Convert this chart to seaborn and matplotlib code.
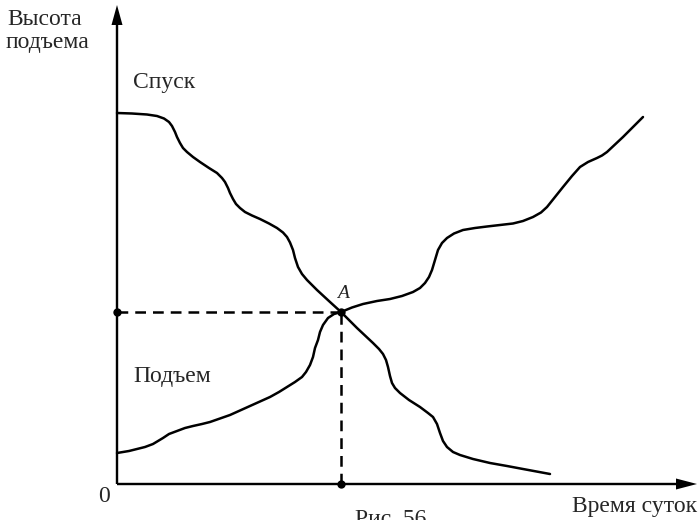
import numpy as np
import pandas as pd
import matplotlib
matplotlib.use("Agg")
import matplotlib.pyplot as plt
import seaborn as sns

# Descent curve ("Спуск"): time of day vs. height
descent_time = [0, 15, 30, 40, 47, 52, 55, 58, 60, 63, 66, 70, 76, 83, 92, 100,
                105, 108, 111, 113, 116, 119, 123, 128, 135, 143, 152, 160, 166,
                170, 173, 176, 178, 181, 185, 190, 200, 213, 224, 240, 256, 262,
                266, 269, 271, 273, 275, 278, 283, 292, 303, 311, 316, 320, 323,
                326, 330, 336, 343, 356, 373, 390, 406, 433]
descent_height = [371, 370.5, 369.5, 368, 365.5, 362, 358, 352, 347, 341, 336,
                  332, 327, 322, 316, 311, 306, 302, 296, 291, 285, 280, 276,
                  272, 268.5, 265, 260.5, 256, 251.5, 247, 241.5, 234, 226, 217,
                  210, 204, 194, 182, 172, 156, 141, 135, 130, 124, 117, 108,
                  101, 96, 91, 84, 77, 71, 67, 60, 51, 43, 37, 32, 29, 25, 21,
                  18, 15, 10]

# Ascent curve ("Подъем")
ascent_time = [0, 12, 20, 28, 36, 41, 46, 52, 60, 68, 76, 85, 93, 103, 113, 123,
               133, 143, 153, 162, 170, 178, 185, 189, 193, 196, 198, 201, 203,
               206, 211, 217, 224, 235, 246, 260, 273, 285, 296, 303, 308, 312,
               315, 318, 321, 325, 330, 337, 346, 358, 370, 383, 396, 406, 416,
               424, 430, 438, 446, 455, 463, 471, 480, 485, 490, 498, 506, 516,
               526]
ascent_height = [31, 33, 35, 37, 40, 43, 46, 50, 53, 56, 58, 60, 62, 65.5, 69,
                 73.5, 78, 82.5, 87, 92, 97, 102, 107, 112, 119, 127, 136, 144,
                 152, 159, 166, 170, 172, 176.5, 180, 183, 185, 188, 192, 196,
                 201, 207, 214, 224, 234, 241, 246, 250.5, 254, 256, 257.5, 259,
                 260.5, 263, 267, 271.5, 277, 287, 297, 308, 317, 322, 326,
                 328.5, 332, 339.5, 347, 357, 367]

# Meeting point A
point_a = (224, 172)

# Axis extents
x_axis_end = 580
y_axis_end = 479

sns.set_style("white")
plt.rcParams["font.family"] = ["Liberation Serif", "DejaVu Serif"]

fig = plt.figure(figsize=(6.99, 5.20), dpi=100)
ax = fig.add_axes([0, 0, 1, 1])
ax.set_xlim(-117, 582)
ax.set_ylim(-36, 484)
ax.axis("off")

curve_lw = 1.8
for t, h in [(descent_time, descent_height), (ascent_time, ascent_height)]:
    sns.lineplot(x=t, y=h, sort=False, estimator=None, color="black",
                 lw=curve_lw, solid_joinstyle="round", solid_capstyle="round",
                 ax=ax)

# Axes with arrowheads
ax.arrow(0, 0, x_axis_end, 0, width=2.4, head_width=11, head_length=21,
         length_includes_head=True, color="black", lw=0)
ax.arrow(0, 0, 0, y_axis_end, width=2.4, head_width=11, head_length=20,
         length_includes_head=True, color="black", lw=0)

# Projections of point A onto the axes
ax_, ay_ = point_a
dash = (0, (4.3, 2.8))
ax.plot([0, ax_], [ay_, ay_], color="black", lw=1.8, linestyle=dash)
ax.plot([ax_, ax_], [0, ay_], color="black", lw=1.8, linestyle=dash)
sns.scatterplot(x=[0, ax_, ax_], y=[ay_, ay_, 0], color="black", s=36,
                edgecolor="black", linewidth=0, ax=ax, zorder=5)

# Labels
fs = 17
ax.text(-110, 459, "Высота", fontsize=fs, ha="left", va="baseline")
ax.text(-111, 436, "подъема", fontsize=fs, ha="left", va="baseline")
ax.text(16, 396, "Спуск", fontsize=fs, ha="left", va="baseline")
ax.text(16, 102, "Подъем", fontsize=fs, ha="left", va="baseline")
ax.text(ax_ + 2, ay_ + 14, "A", fontsize=14, style="italic", ha="center",
        va="baseline", color="#222222")
ax.text(-13, -12, "0", fontsize=fs, ha="center", va="center")
ax.text(580, -28, "Время суток", fontsize=fs, ha="right", va="baseline")
ax.text(238, -25, "Рис. 56", fontsize=fs, ha="left", va="top")

fig.savefig("out.png", dpi=100)
